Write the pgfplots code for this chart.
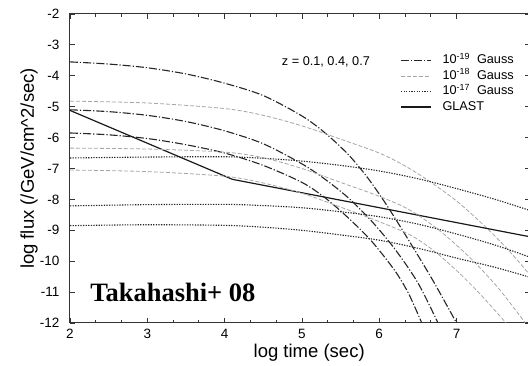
\documentclass[border=0pt]{standalone}
\usepackage{fontspec}
\setmainfont{Liberation Sans}
\newfontfamily\serifbf{Liberation Serif}
\usepackage{pgfplots}
\pgfplotsset{compat=1.18}
\tikzset{
  ddot/.style={color=black!85, line width=1.1pt, dash pattern=on 8pt off 2pt on 1.2pt off 2pt},
  gdash/.style={color=black!35, line width=0.8pt, dash pattern=on 4pt off 2pt},
  dotd/.style={color=black!85, line width=1.1pt, dash pattern=on 1.3pt off 1.3pt},
  glast/.style={color=black!90, line width=1.2pt, solid},
}
\begin{document}
\begin{tikzpicture}
\useasboundingbox (-70pt,-43pt) rectangle (458pt,323pt);
\begin{axis}[
  at={(0pt,0pt)}, anchor=south west,
  scale only axis, width=460pt, height=309pt,
  xmin=2, xmax=7.95, ymin=-12, ymax=-2,
  xtick={2,3,4,5,6,7}, ytick={-12,-11,-10,-9,-8,-7,-6,-5,-4,-3,-2},
  minor x tick num=2,
  tick align=inside,
  major tick length=5pt, minor tick length=3pt,
  axis line style={black!80, line width=1pt},
  every tick/.style={black!80, line width=0.8pt},
  /pgf/number format/assume math mode=true,
  tick label style={font=\fontsize{13.5}{15}\selectfont},
  yticklabel style={xshift=-7pt},
  xticklabel style={yshift=-3pt},
  every axis x label/.style={at={(axis description cs:0.52,0)}, yshift=-30pt, anchor=center, font=\fontsize{18.5}{20}\selectfont},
  every axis y label/.style={at={(axis description cs:0,0.5)}, xshift=-41pt, rotate=90, anchor=center, font=\fontsize{18.5}{20}\selectfont},
  xlabel={log time (sec)},
  ylabel={log flux (/GeV/cm\^{}2/sec)},
  legend style={draw=none, fill=none, at={(axis cs:6.27,-3.25)}, anchor=north west,
    inner sep=0pt, row sep=0pt, font=\fontsize{12.7}{14}\selectfont,
    nodes={text height=9pt, text depth=2.5pt, inner sep=2pt},
    /tikz/every odd column/.append style={column sep=9pt}},
  legend cell align=left,
  legend image code/.code={\draw[#1] (0pt,0pt) -- (30pt,0pt);},
]
% 10^-19 Gauss (dash-dot)
\addplot[ddot, smooth] coordinates {(2,-3.55) (2.5,-3.62) (3,-3.74) (3.5,-3.94) (4,-4.24) (4.5,-4.64) (5,-5.3) (5.3,-5.85) (5.6,-6.55) (5.85,-7.3) (6.1,-8.2) (6.4,-9.4) (6.7,-10.65) (7.0,-12)};
\addlegendentry{10\textsuperscript{-19}\ \ Gauss}
% 10^-18 Gauss (gray dashed)
\addplot[gdash, smooth] coordinates {(2,-4.82) (3,-4.88) (4,-5.06) (4.5,-5.28) (5,-5.62) (5.5,-6.05) (6,-6.5) (6.3,-6.87) (6.6,-7.33) (7,-8.05) (7.4,-8.95) (7.7,-9.72) (7.95,-10.45)};
\addlegendentry{10\textsuperscript{-18}\ \ Gauss}
% 10^-17 Gauss (dotted)
\addplot[dotd, smooth] coordinates {(2,-6.66) (3,-6.63) (4,-6.62) (4.5,-6.67) (5,-6.76) (5.5,-6.9) (6,-7.08) (6.5,-7.33) (7,-7.65) (7.5,-8.0) (7.95,-8.36)};
\addlegendentry{10\textsuperscript{-17}\ \ Gauss}
% GLAST
\addplot[glast] coordinates {(2,-5.12) (4.1,-7.35) (7.95,-9.21)};
\addlegendentry{GLAST}
% remaining curves
\addplot[ddot, smooth, forget plot] coordinates {(2,-5.1) (2.5,-5.16) (3,-5.28) (3.5,-5.48) (4,-5.78) (4.5,-6.2) (5,-6.85) (5.3,-7.35) (5.6,-7.95) (5.9,-8.7) (6.2,-9.6) (6.5,-10.7) (6.76,-12)};
\addplot[ddot, smooth, forget plot] coordinates {(2,-5.85) (2.5,-5.91) (3,-6.03) (3.5,-6.23) (4,-6.5) (4.5,-6.9) (5,-7.45) (5.3,-7.95) (5.6,-8.6) (5.9,-9.35) (6.2,-10.3) (6.38,-11.05) (6.55,-12)};
\addplot[gdash, smooth, forget plot] coordinates {(2,-6.34) (3,-6.37) (4,-6.47) (4.5,-6.65) (5,-7.0) (5.5,-7.45) (6,-7.9) (6.4,-8.35) (6.8,-9.05) (7.2,-9.95) (7.55,-10.9) (7.89,-12)};
\addplot[gdash, smooth, forget plot] coordinates {(2,-7.05) (3,-7.1) (4,-7.25) (4.5,-7.47) (5,-7.8) (5.5,-8.25) (6,-8.72) (6.4,-9.15) (6.7,-9.65) (7.0,-10.3) (7.3,-11.05) (7.64,-12)};
\addplot[dotd, smooth, forget plot] coordinates {(2,-8.21) (3,-8.17) (4,-8.16) (4.5,-8.2) (5,-8.27) (5.5,-8.4) (6,-8.56) (6.5,-8.8) (7,-9.12) (7.5,-9.48) (7.95,-9.87)};
\addplot[dotd, smooth, forget plot] coordinates {(2,-8.85) (3,-8.82) (4,-8.84) (4.5,-8.9) (5,-9.0) (5.5,-9.15) (6,-9.32) (6.5,-9.58) (7,-9.9) (7.5,-10.2) (7.95,-10.52)};
\node[font=\fontsize{12.7}{14}\selectfont, anchor=center] at (axis cs:5.31,-3.55) {z = 0.1, 0.4, 0.7};
\node[font=\serifbf\bfseries\fontsize{26.5}{28}\selectfont, anchor=base west, inner sep=0pt] at (axis cs:2.26,-11.32) {Takahashi+ 08};
\end{axis}
\end{tikzpicture}
\end{document}
